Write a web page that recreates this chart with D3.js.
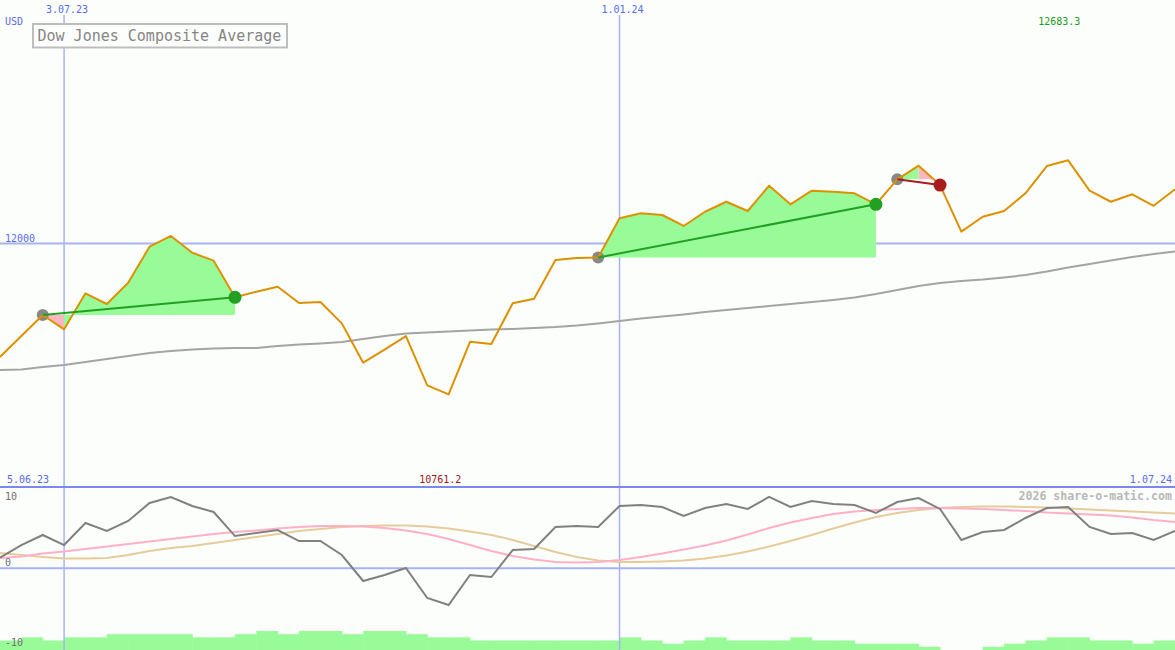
<!DOCTYPE html>
<html><head><meta charset="utf-8">
<script src="https://cdn.jsdelivr.net/npm/d3@7"></script>
<style>html,body{margin:0;padding:0;background:#fcfefc;overflow:hidden}</style>
</head><body><svg id="c" width="1175" height="650"></svg>
<script>
// ---------- data ----------
const startDate = "2023-06-12";           // first weekly point
const endDate = "2024-07-01";             // last weekly point
const title = "Dow Jones Composite Average";
const currency = "USD";
const closes = [11068,11240,11413,11295,11591,11503,11678,11974,12062,11924,
  11859,11558,11604,11645,11511,11519,11344,11021,11129,11240,
  10835,10761.2,11193,11174,11509,11547,11864,11881,11885,12207,
  12248,12234,12144,12261,12343,12267,12475,12322,12434,12425,
  12412,12322,12527,12639,12480,12097,12220,12267,12412,12636,
  12683.3,12434,12343,12404,12310,12445];
const movingAvg = [10961,10965,10986,11002,11027,11051,11076,11101,11117,11129,
  11138,11142,11142,11158,11170,11179,11191,11216,11240,11261,
  11269,11277,11285,11294,11298,11306,11314,11326,11343,11363,
  11384,11400,11417,11437,11454,11470,11487,11503,11519,11536,
  11556,11585,11618,11651,11676,11692,11704,11721,11741,11770,
  11803,11832,11860,11889,11914,11934];
const momentum = [1.3,2.84,4.07,2.84,5.54,4.56,5.78,7.98,8.72,7.62,
  6.88,3.94,4.31,4.68,3.33,3.33,1.62,-1.56,-0.83,0.03,
  -3.64,-4.5,-0.83,-1.07,2.23,2.35,5.05,5.17,5.05,7.62,
  7.74,7.49,6.39,7.37,7.86,7.25,8.72,7.49,8.23,7.86,
  7.74,6.76,8.1,8.59,7.25,3.46,4.43,4.68,6.15,7.37,
  7.49,5.05,4.19,4.31,3.46,4.56];
const fastLine = [1.25,1.44,1.8,2.05,2.35,2.66,2.97,3.27,3.58,3.88,
  4.19,4.43,4.62,4.86,5.05,5.17,5.17,5.11,4.92,4.62,
  4.19,3.58,2.84,2.11,1.5,1.07,0.76,0.7,0.76,1.01,
  1.38,1.8,2.29,2.78,3.39,4.13,4.92,5.6,6.15,6.64,
  6.94,7.13,7.25,7.37,7.37,7.31,7.25,7.13,7.0,6.82,
  6.7,6.57,6.45,6.21,5.9,5.66];
const slowLine = [1.87,1.62,1.38,1.19,1.19,1.25,1.62,2.11,2.48,2.72,
  3.09,3.46,3.82,4.19,4.56,4.8,5.05,5.17,5.23,5.23,
  5.11,4.86,4.5,4.07,3.46,2.72,1.99,1.38,0.95,0.76,
  0.76,0.83,0.95,1.19,1.56,2.05,2.66,3.33,4.07,4.86,
  5.6,6.27,6.76,7.13,7.37,7.49,7.55,7.55,7.49,7.43,
  7.31,7.19,7.06,6.94,6.82,6.7];
const barLevels = [3,4,3,4,4,5,5,5,5,4,
  4,5,6,5,6,6,5,6,6,5,
  4,4,3,3,3,3,3,3,3,4,
  3,2,3,4,3,3,3,4,3,3,
  2,2,2,1,0,0,1,2,3,4,
  4,3,3,2,3];
const signals = [
  {start:2, end:11, win:true},
  {start:28, end:41, win:true},
  {start:42, end:44, win:false}
];
const gridDates = ["2023-07-03","2024-01-01"];
const gridDateLabels = ["3.07.23","1.01.24"];
const priceTicks = [12000];
const lowerTicks = [10, 0, -10];
const rangeLabels = ["5.06.23","1.07.24"];
const maxLabel = "12683.3", minLabel = "10761.2";
const copyright = "2026 share-o-matic.com";

// ---------- setup ----------
const W = 1175, H = 650, splitY = 487;
const svg = d3.select("#c");
const parse = d3.utcParse("%Y-%m-%d");
const d0 = parse(startDate), d1 = parse(endDate);
const dates = closes.map((_, i) => d3.utcDay.offset(d0, 7 * i));
const x = d3.scaleUtc().domain([d0, d1]).range([0, W]);
const y = d3.scaleLinear().domain([10000, 14000]).range([splitY, 0]);
const yl = d3.scaleLinear().domain([-10, 10]).range([H, 486.5]);
const yb = d3.scaleLinear().domain([0, 6]).range([H, 631]);
const mono = "'DejaVu Sans Mono', 'Liberation Mono', monospace";
const gridCol = "#a6b3f5";

svg.append("rect").attr("width", W).attr("height", H).attr("fill", "#fcfefc");

// bottom bars
barLevels.forEach((lv, i) => {
  if (lv <= 0) return;
  svg.append("rect")
    .attr("x", x(dates[i])).attr("width", x(dates[i + 1]) - x(dates[i]) + 0.5)
    .attr("y", yb(lv)).attr("height", yb(0) - yb(lv))
    .attr("fill", "#98fb98");
});

// grid lines
priceTicks.forEach(t => {
  svg.append("line").attr("x1", 0).attr("x2", W).attr("y1", y(t)).attr("y2", y(t))
    .attr("stroke", gridCol).attr("stroke-width", 2);
});
svg.append("line").attr("x1", 0).attr("x2", W).attr("y1", yl(0)).attr("y2", yl(0))
  .attr("stroke", gridCol).attr("stroke-width", 2);
gridDates.forEach(g => {
  const gx = x(parse(g));
  svg.append("line").attr("x1", gx).attr("x2", gx).attr("y1", 15).attr("y2", H)
    .attr("stroke", gridCol).attr("stroke-width", 1.5);
});
svg.append("line").attr("x1", 0).attr("x2", W).attr("y1", splitY).attr("y2", splitY)
  .attr("stroke", "#7b89ec").attr("stroke-width", 2);

// signal fills
signals.forEach(s => {
  const lvl = closes[s.start];
  let runs = [];
  for (let j = s.start; j < s.end; j++) {
    const col = closes[j + 1] < lvl ? "#ffb6c1" : "#98fb98";
    if (runs.length && runs[runs.length - 1].col === col) runs[runs.length - 1].to = j + 1;
    else runs.push({col, from: j, to: j + 1});
  }
  runs.forEach(r => {
    const idx = d3.range(r.from, r.to + 1);
    const area = d3.area().x(i => x(dates[i])).y0(y(lvl)).y1(i => y(closes[i]));
    svg.append("path").attr("d", area(idx)).attr("fill", r.col);
  });
});

// moving average
const line = (arr, sc) => d3.line().x((d, i) => x(dates[i])).y(d => sc(d))(arr);
svg.append("path").attr("d", line(movingAvg, y)).attr("fill", "none")
  .attr("stroke", "#a4a4a4").attr("stroke-width", 2);

// lower panel lines
svg.append("path").attr("d", line(slowLine, yl)).attr("fill", "none")
  .attr("stroke", "#e6cc9a").attr("stroke-width", 2);
svg.append("path").attr("d", line(fastLine, yl)).attr("fill", "none")
  .attr("stroke", "#ffb0c8").attr("stroke-width", 2);
svg.append("path").attr("d", line(momentum, yl)).attr("fill", "none")
  .attr("stroke", "#808080").attr("stroke-width", 2);

// start dots
signals.forEach(s => {
  svg.append("circle").attr("cx", x(dates[s.start])).attr("cy", y(closes[s.start]))
    .attr("r", 6).attr("fill", "#888888");
});

// price line
svg.append("path").attr("d", line(closes, y)).attr("fill", "none")
  .attr("stroke", "#dc9200").attr("stroke-width", 2).attr("stroke-linejoin", "round");

// trend lines + end dots
signals.forEach(s => {
  const col = s.win ? "#22a022" : "#a81c1c";
  svg.append("line")
    .attr("x1", x(dates[s.start])).attr("y1", y(closes[s.start]))
    .attr("x2", x(dates[s.end])).attr("y2", y(closes[s.end]))
    .attr("stroke", col).attr("stroke-width", 2);
  svg.append("circle").attr("cx", x(dates[s.end])).attr("cy", y(closes[s.end]))
    .attr("r", 6.5).attr("fill", col);
});

// labels
const txt = (t, tx, ty, col, opts = {}) => svg.append("text").text(t)
  .attr("x", tx).attr("y", ty).attr("fill", col)
  .attr("font-family", mono).attr("font-size", opts.size || 10)
  .attr("font-weight", opts.weight || "normal")
  .attr("text-anchor", opts.anchor || "start");

gridDates.forEach((g, i) => txt(gridDateLabels[i], x(parse(g)) + 3, 12.5, "#5a6af0", {anchor: "middle"}));
txt(currency, 5, 25, "#5a6af0");
priceTicks.forEach(t => txt(d3.format("d")(t), 5, y(t) - 1.5, "#5a6af0"));
txt(rangeLabels[0], 7, 482.5, "#5a6af0");
txt(rangeLabels[1], 1172, 482.5, "#5a6af0", {anchor: "end"});

const iMax = d3.maxIndex(closes), iMin = d3.minIndex(closes);
txt(maxLabel, x(dates[iMax]) - 30, 25, "#229a22");
txt(minLabel, x(dates[iMin]) - 29.5, 482.5, "#a01818");

const lowerPos = {10: 500, 0: 565.5, "-10": 646};
lowerTicks.forEach(t => txt(String(t), 5, lowerPos[t], "#707070"));
txt(copyright, 1172, 500, "#b8b8b8", {anchor: "end", size: 11.6, weight: "bold"});

// title box
svg.append("rect").attr("x", 33).attr("y", 24).attr("width", 254).attr("height", 23.5)
  .attr("fill", "#fcfefc").attr("stroke", "#bdbdbd").attr("stroke-width", 2);
txt(title, 37.5, 41, "#858585", {size: 15});
</script></body></html>
